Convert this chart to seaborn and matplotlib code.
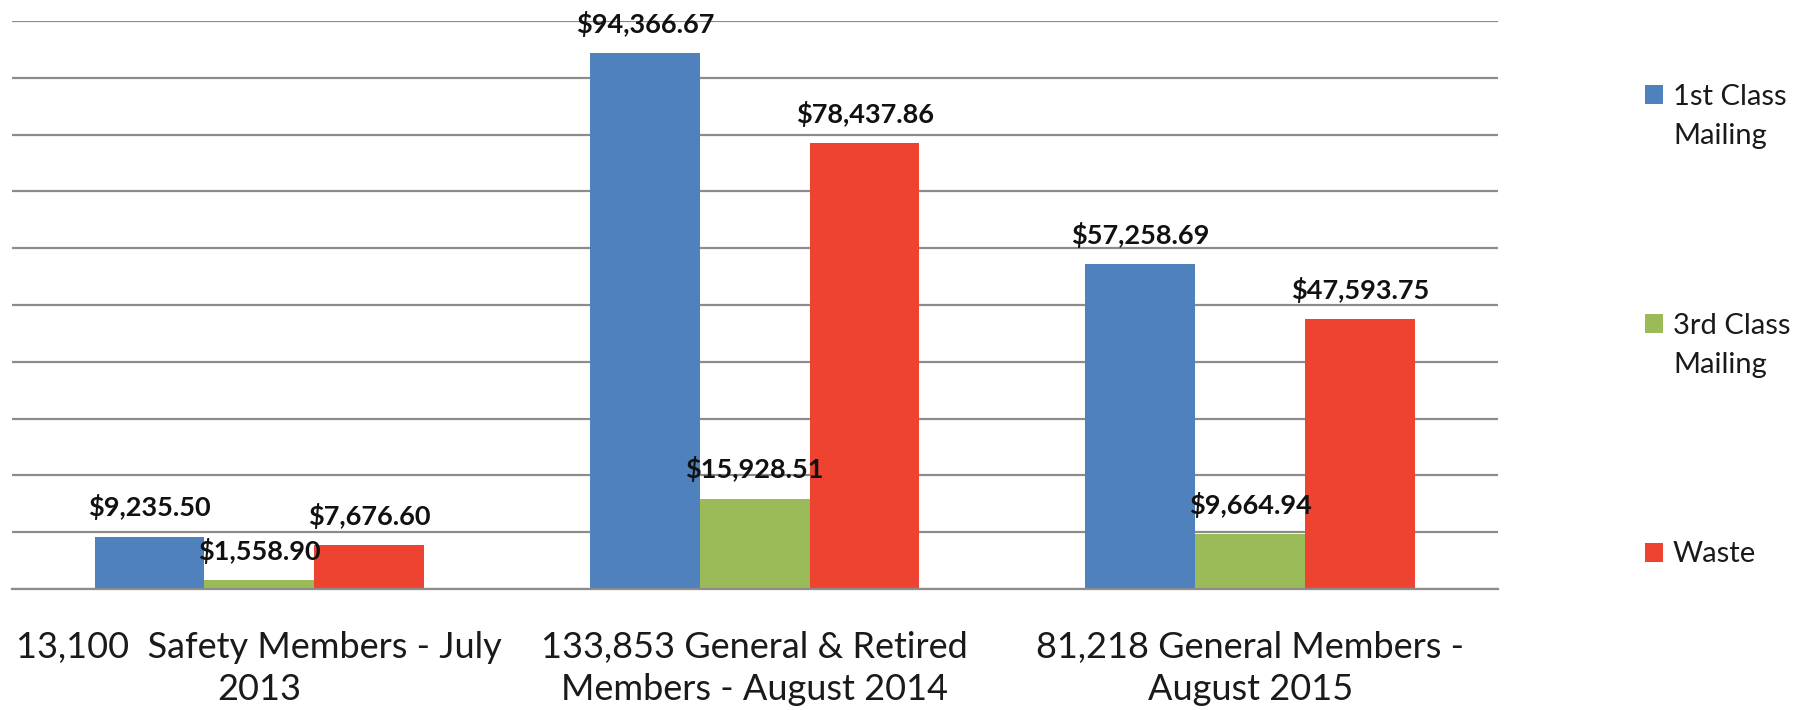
import numpy as np
import pandas as pd
import matplotlib.pyplot as plt
import seaborn as sns

# chart values
groups = ['13,100  Safety Members - July\n2013',
          '133,853 General & Retired\nMembers - August 2014',
          '81,218 General Members -\nAugust 2015']
series = ['1st Class\nMailing', '3rd Class\nMailing', 'Waste']
first_class = [9235.50, 94366.67, 57258.69]
third_class = [1558.90, 15928.51, 9664.94]
waste = [7676.60, 78437.86, 47593.75]
colors = ['#4F81BD', '#9BBB59', '#EE4330']

df = pd.DataFrame({
    'group': groups * 3,
    'series': np.repeat(series, len(groups)),
    'cost': first_class + third_class + waste,
})

sns.set_style('white')
plt.rcParams['font.family'] = ['Lato', 'DejaVu Sans']

fig = plt.figure(figsize=(18, 7.1), dpi=100)
ax = fig.add_axes([0.0064, 0.1704, 0.8258, 0.800])

sns.barplot(data=df, x='group', y='cost', hue='series', order=groups,
            hue_order=series, palette=colors, width=0.665, saturation=1,
            linewidth=0, ax=ax, legend=True)

ax.set_ylim(0, 100000)
ax.set_xlim(-0.5, 2.5)
ax.set_yticks(np.arange(0, 100001, 10000))
ax.yaxis.grid(True, color='#8c8c8c', linewidth=1.6)
ax.set_axisbelow(True)
ax.tick_params(axis='y', left=False, labelleft=False)
for s in ['top', 'right', 'left']:
    ax.spines[s].set_visible(False)
ax.spines['bottom'].set_color('#8c8c8c')
ax.spines['bottom'].set_linewidth(1.6)
ax.set_xlabel('')
ax.set_ylabel('')

# category labels on major ticks, separators on minor ticks
ax.set_xticks(range(len(groups)))
ax.set_xticklabels(groups, fontsize=26, color='#1a1a1a', linespacing=1.36)
ax.tick_params(axis='x', which='major', length=0, pad=30)
ax.set_xticks([-0.5, 0.5, 1.5, 2.5], minor=True)
ax.tick_params(axis='x', which='minor', length=12, width=1.4, color='#8c8c8c')

# value labels
for cont in ax.containers:
    for bar in cont:
        h = bar.get_height()
        ax.annotate(f'${h:,.2f}', (bar.get_x() + bar.get_width() / 2, h),
                    xytext=(0, 21), textcoords='offset points',
                    ha='center', va='center', fontsize=19.5,
                    fontweight='bold', color='#111111', zorder=5)

handles, labels = ax.get_legend_handles_labels()
ax.legend_.remove()
leg = fig.legend(handles, labels, loc='upper left',
                 bbox_to_anchor=(0.9139, 0.882), frameon=False, fontsize=21,
                 handlelength=0.62, handleheight=0.62, handletextpad=0.34,
                 labelspacing=5.6, borderpad=0, borderaxespad=0)
for t in leg.get_texts():
    t.set_linespacing(1.64)
    t.set_color('#1a1a1a')

# line the squares up with the first line of each label (like the single-line one)
fig.canvas.draw()
r = fig.canvas.get_renderer()
patches = leg.get_patches()
texts = leg.get_texts()
ref_gap = texts[-1].get_window_extent(r).y1 - patches[-1].get_window_extent(r).y1
for p, t in zip(patches, texts):
    gap = t.get_window_extent(r).y1 - p.get_window_extent(r).y1
    p.set_y(p.get_y() + (gap - ref_gap) * 72 / fig.dpi)

fig.savefig('out.png', dpi=100)
